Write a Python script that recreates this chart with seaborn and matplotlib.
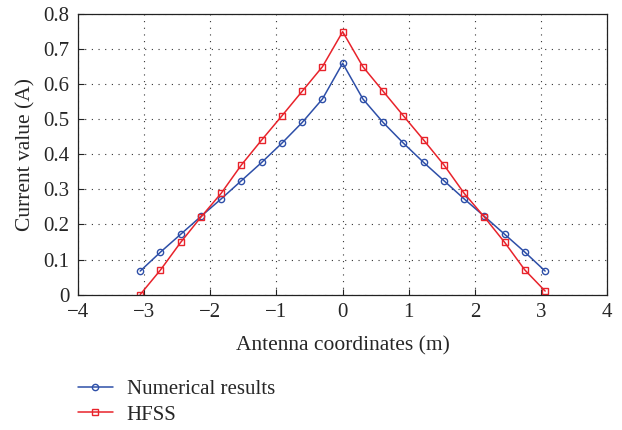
import numpy as np
import pandas as pd
import matplotlib
matplotlib.use("Agg")
import matplotlib.pyplot as plt
import seaborn as sns
from matplotlib.lines import Line2D

x_coords = [-3.06, -2.754, -2.448, -2.142, -1.836, -1.53, -1.224, -0.918, -0.612, -0.306, 0.0,
            0.306, 0.612, 0.918, 1.224, 1.53, 1.836, 2.142, 2.448, 2.754, 3.06]
numerical = [0.067, 0.121, 0.172, 0.223, 0.273, 0.325, 0.377, 0.432, 0.491, 0.558, 0.660,
             0.558, 0.491, 0.432, 0.377, 0.325, 0.273, 0.223, 0.172, 0.121, 0.067]
hfss = [0.0, 0.070, 0.149, 0.221, 0.289, 0.370, 0.441, 0.510, 0.580, 0.650, 0.750,
        0.650, 0.580, 0.510, 0.441, 0.370, 0.289, 0.221, 0.149, 0.070, 0.010]
series_names = ["Numerical results", "HFSS"]
x_ticks = [-4, -3, -2, -1, 0, 1, 2, 3, 4]
y_ticks = [0, 0.1, 0.2, 0.3, 0.4, 0.5, 0.6, 0.7, 0.8]
y_tick_labels = ["0", "0.1", "0.2", "0.3", "0.4", "0.5", "0.6", "0.7", "0.8"]

df = pd.DataFrame({
    "x": x_coords * 2,
    "y": numerical + hfss,
    "series": [series_names[0]] * len(x_coords) + [series_names[1]] * len(x_coords),
})

sns.set_style("ticks")
plt.rcParams["font.family"] = ["Liberation Serif", "DejaVu Serif"]
plt.rcParams["axes.unicode_minus"] = True

fig = plt.figure(figsize=(6.22, 4.30), dpi=100)
ax = fig.add_axes([0.1254, 0.315, 0.851, 0.652])

colors = {"Numerical results": "#2e4fa8", "HFSS": "#e8232b"}
markers = {"Numerical results": "o", "HFSS": "s"}
sns.lineplot(data=df, x="x", y="y", hue="series", style="series",
             palette=colors, markers=markers, dashes=False,
             markersize=4.5, linewidth=1.1, ax=ax, legend=False)
for line, name in zip(ax.lines, series_names):
    line.set_markerfacecolor("none")
    line.set_markeredgecolor(colors[name])
    line.set_markeredgewidth(1.0)

ax.set_xlim(-4, 4)
ax.set_ylim(0, 0.8)
ax.set_xticks(x_ticks)
ax.set_xticklabels(["\u2212" + str(-t) if t < 0 else str(t) for t in x_ticks])
ax.set_yticks(y_ticks)
ax.set_yticklabels(y_tick_labels)
ax.tick_params(direction="in", length=4, labelsize=15, width=0.8, color="#222222", pad=6)
ax.grid(True, linestyle=(0, (1, 5)), color="#333333", linewidth=0.8)
for s in ax.spines.values():
    s.set_linewidth(0.9)
    s.set_color("#222222")
ax.set_xlabel("Antenna coordinates (m)", fontsize=15.5, labelpad=10)
ax.set_ylabel("Current value (A)", fontsize=15.5, labelpad=6)

handles = [Line2D([], [], color=colors[n], marker=markers[n], markersize=4.5,
                  markerfacecolor="none", markeredgecolor=colors[n], linewidth=1.1)
           for n in series_names]
fig.legend(handles, series_names, loc="upper left", bbox_to_anchor=(0.125, 0.118),
           frameon=False, fontsize=15, handlelength=1.7, handletextpad=0.65,
           labelspacing=0.3, borderaxespad=0, borderpad=0)

fig.savefig("out.png", dpi=100)
